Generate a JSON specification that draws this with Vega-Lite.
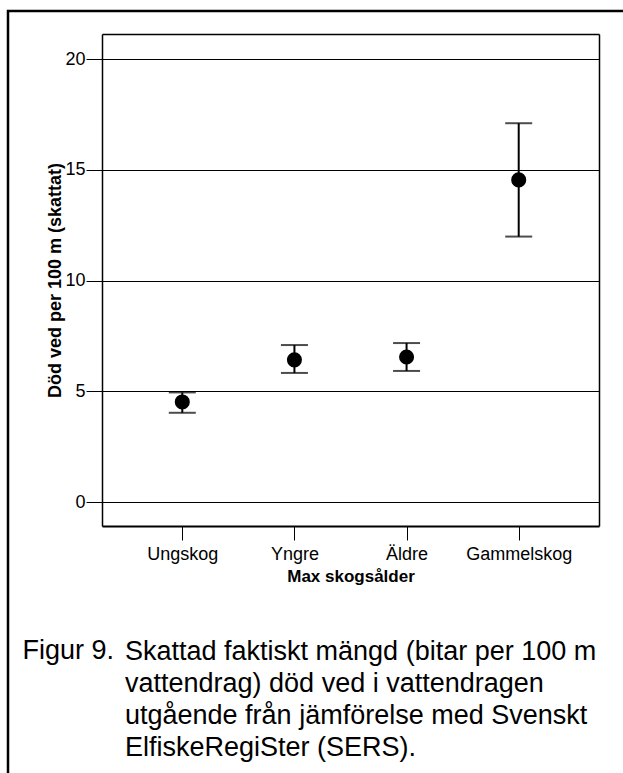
{
  "$schema": "https://vega.github.io/schema/vega-lite/v6.json",
  "width": 630,
  "height": 780,
  "autosize": {"type": "none"},
  "padding": {"left": 8, "top": 11, "right": -15, "bottom": -18},
  "background": "white",
  "config": {
    "view": {"stroke": "black", "strokeWidth": 2.5},
    "font": "Liberation Sans"
  },
  "data": {
    "values": [
      {"skog": "Ungskog", "medel": 4.52, "nedre": 4.03, "ovre": 4.95},
      {"skog": "Yngre", "medel": 6.42, "nedre": 5.83, "ovre": 7.09},
      {"skog": "Äldre", "medel": 6.55, "nedre": 5.92, "ovre": 7.18},
      {"skog": "Gammelskog", "medel": 14.55, "nedre": 11.99, "ovre": 17.11}
    ]
  },
  "title": {
    "text": [
      "Skattad faktiskt mängd (bitar per 100 m",
      "vattendrag) död ved i vattendragen",
      "utgående från jämförelse med Svenskt",
      "ElfiskeRegiSter (SERS)."
    ],
    "orient": "top",
    "anchor": "start",
    "frame": "group",
    "offset": -772,
    "dx": 117,
    "fontSize": 27,
    "fontWeight": "normal",
    "font": "Liberation Sans",
    "baseline": "alphabetic",
    "lineHeight": 32,
    "color": "black"
  },
  "layer": [
    {
      "mark": {"type": "rule", "color": "black", "strokeWidth": 2},
      "encoding": {
        "x": {
          "field": "skog",
          "type": "nominal",
          "sort": null,
          "scale": {"type": "point", "domain": ["Ungskog", "Yngre", "Äldre", "Gammelskog"], "range": [94, 591], "padding": 0.716},
          "axis": {
            "orient": "bottom",
            "offset": -265,
            "title": "Max skogsålder",
            "titleFontWeight": "bold",
            "titleFontSize": 17,
            "titleColor": "black",
            "titlePadding": 5,
            "labelFontSize": 18,
            "labelColor": "black",
            "labelAngle": 0,
            "labelPadding": 5,
            "tickSize": 14,
            "tickColor": "black",
            "tickWidth": 1,
            "domainColor": "black",
            "domainWidth": 2,
            "grid": false
          }
        },
        "y": {
          "field": "nedre",
          "type": "quantitative",
          "scale": {"domain": [-1.084, 21.14], "range": [515, 23], "nice": false, "zero": false},
          "axis": {
            "orient": "left",
            "offset": -94,
            "values": [0, 5, 10, 15, 20],
            "grid": true,
            "gridColor": "black",
            "gridWidth": 1,
            "gridOpacity": 1,
            "tickSize": 16,
            "tickColor": "black",
            "tickWidth": 1,
            "domainColor": "black",
            "domainWidth": 1.5,
            "labelFontSize": 18,
            "labelColor": "black",
            "labelPadding": 1,
            "title": "Död ved per 100 m (skattat)",
            "titleFontSize": 18,
            "titleFontWeight": "bold",
            "titleColor": "black",
            "titlePadding": 0
          }
        },
        "y2": {"field": "ovre"}
      }
    },
    {
      "mark": {"type": "tick", "color": "black", "thickness": 2, "size": 27, "orient": "horizontal"},
      "encoding": {
        "x": {"field": "skog", "type": "nominal", "sort": null, "axis": null},
        "y": {"field": "nedre", "type": "quantitative", "axis": null}
      }
    },
    {
      "mark": {"type": "tick", "color": "black", "thickness": 2, "size": 27, "orient": "horizontal"},
      "encoding": {
        "x": {"field": "skog", "type": "nominal", "sort": null, "axis": null},
        "y": {"field": "ovre", "type": "quantitative", "axis": null}
      }
    },
    {
      "mark": {"type": "circle", "size": 227, "color": "black", "opacity": 1},
      "encoding": {
        "x": {
          "field": "skog",
          "type": "nominal",
          "sort": null,
          "axis": {
            "orient": "top",
            "offset": -23,
            "labels": false,
            "ticks": false,
            "grid": false,
            "domainColor": "black",
            "domainWidth": 1.5,
            "title": "Figur 9.",
            "titleX": 14,
            "titleY": 624,
            "titleAlign": "left",
            "titleBaseline": "alphabetic",
            "titleAngle": 0,
            "titleFontSize": 27,
            "titleFontWeight": "normal",
            "titleColor": "black"
          }
        },
        "y": {
          "field": "medel",
          "type": "quantitative",
          "axis": {
            "orient": "right",
            "offset": -39,
            "labels": false,
            "ticks": false,
            "grid": false,
            "title": null,
            "domainColor": "black",
            "domainWidth": 1.5
          }
        }
      }
    }
  ],
  "resolve": {"axis": {"x": "independent", "y": "independent"}}
}
